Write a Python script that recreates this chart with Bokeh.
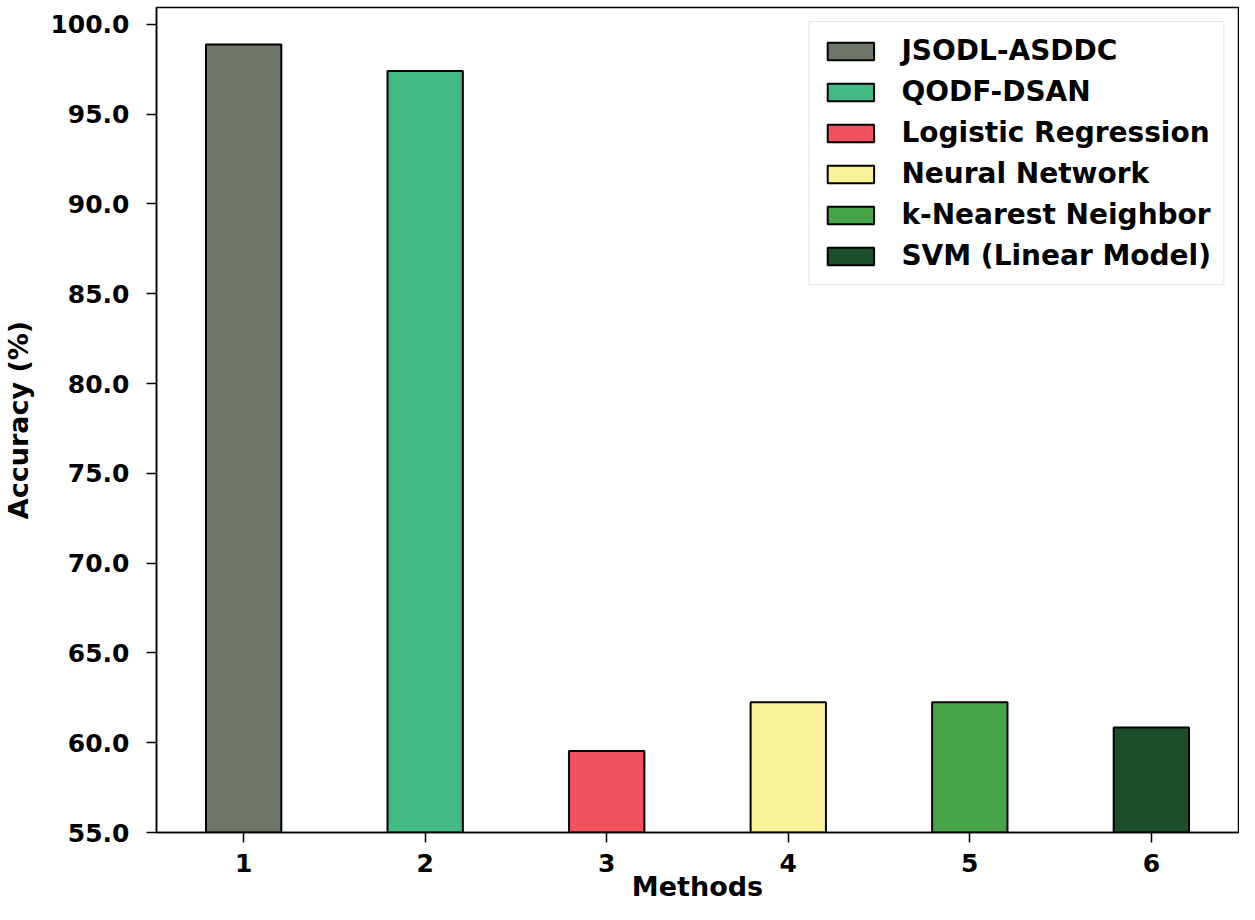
from bokeh.plotting import figure
from bokeh.models import ColumnDataSource, FixedTicker, NumeralTickFormatter, Range1d
from bokeh.embed import file_html
from bokeh.resources import INLINE

methods = ["JSODL-ASDDC", "QODF-DSAN", "Logistic Regression", "Neural Network",
           "k-Nearest Neighbor", "SVM (Linear Model)"]
positions = [1, 2, 3, 4, 5, 6]
accuracy = [98.88, 97.41, 59.54, 62.25, 62.25, 60.85]
colors = ["#6d7569", "#45b985", "#f0525e", "#f9f29a", "#47a347", "#1d4e2b"]
y_ticks = [55, 60, 65, 70, 75, 80, 85, 90, 95, 100]
x_ticks = [1, 2, 3, 4, 5, 6]
x_labels = ["1", "2", "3", "4", "5", "6"]
x_title = "Methods"
y_title = "Accuracy (%)"

FONT = "DejaVu Sans"
Y_MIN, Y_MAX = 55, 100.94

source = ColumnDataSource(dict(x=positions, top=accuracy, color=colors, method=methods))

p = figure(width=1239, height=904, output_backend="svg", toolbar_location=None,
           x_range=Range1d(0.52, 6.48), y_range=Range1d(Y_MIN, Y_MAX),
           min_border_left=149, min_border_right=1,
           min_border_top=7, min_border_bottom=70)

p.vbar(x="x", top="top", bottom=Y_MIN, width=0.415, fill_color="color", line_color="black",
       line_width=2, source=source, legend_field="method")

p.xgrid.visible = False
p.ygrid.visible = False
p.outline_line_color = "black"
p.outline_line_width = 1.5
p.background_fill_color = "white"
p.border_fill_color = "white"

for ax in (p.xaxis[0], p.yaxis[0]):
    ax.axis_line_color = "black"
    ax.axis_line_width = 1.5
    ax.major_tick_line_color = "black"
    ax.major_tick_line_width = 1.5
    ax.major_tick_out = 10
    ax.major_tick_in = 0
    ax.minor_tick_line_color = None
    ax.major_label_text_font = FONT
    ax.major_label_text_font_style = "bold"
    ax.major_label_text_font_size = "25px"
    ax.major_label_text_color = "black"
    ax.axis_label_text_font = FONT
    ax.axis_label_text_font_style = "bold"
    ax.axis_label_text_font_size = "27px"
    ax.axis_label_text_color = "black"

p.xaxis.ticker = FixedTicker(ticks=x_ticks)
p.xaxis.major_label_overrides = {t: l for t, l in zip(x_ticks, x_labels)}
p.xaxis.major_label_standoff = 11
p.xaxis.axis_label = x_title
p.xaxis.axis_label_standoff = -4

p.yaxis.ticker = FixedTicker(ticks=y_ticks)
p.yaxis.formatter = NumeralTickFormatter(format="0.0")
p.yaxis.major_label_standoff = 17
p.yaxis.axis_label = y_title
p.yaxis.axis_label_standoff = 13

lg = p.legend[0]
lg.location = "top_right"
lg.margin = 14
lg.padding = 12
lg.spacing = 8
lg.glyph_width = 58
lg.glyph_height = 22
lg.label_height = 33
lg.label_standoff = 22
lg.label_text_font = FONT
lg.label_text_font_style = "bold"
lg.label_text_font_size = "28px"
lg.label_text_color = "black"
lg.border_line_color = "#cccccc"
lg.border_line_width = 1.5
lg.background_fill_alpha = 1.0

open("out.html", "w").write(file_html(p, INLINE))
